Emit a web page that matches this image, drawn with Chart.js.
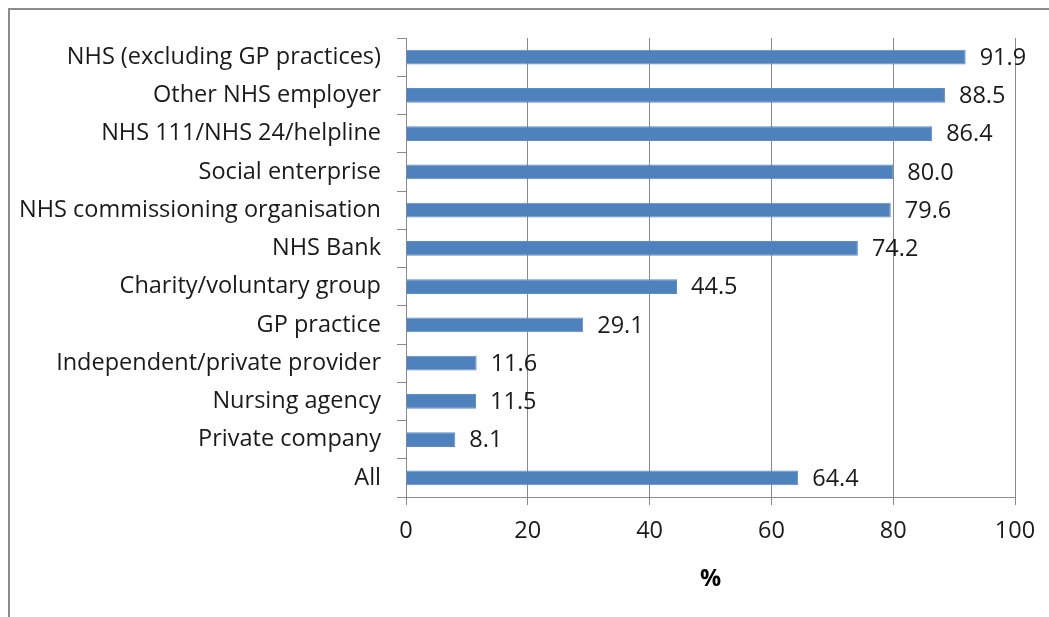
<!DOCTYPE html>
<html>
<head>
<meta charset="utf-8">
<script src="https://cdn.jsdelivr.net/npm/chart.js@4"></script>
<style>
  html, body { margin: 0; padding: 0; background: #fff; }
  #wrap { position: relative; width: 1049px; height: 617px; overflow: hidden; }
  #frame { position: absolute; left: 8px; top: 8px; width: 1100px; height: 700px;
           border-left: 2px solid #8c8c8c; border-top: 2px solid #8c8c8c; }
  canvas { position: absolute; left: 0; top: 0; }
</style>
</head>
<body>
<div id="wrap">
  <div id="frame"></div>
  <canvas id="chart" width="1049" height="617"></canvas>
</div>
<script>
// Categorías y valores (%)
const categories = [
    'NHS (excluding GP practices)',
    'Other NHS employer',
    'NHS 111/NHS 24/helpline',
    'Social enterprise',
    'NHS commissioning organisation',
    'NHS Bank',
    'Charity/voluntary group',
    'GP practice',
    'Independent/private provider',
    'Nursing agency',
    'Private company',
    'All'
];
const values = [91.9, 88.5, 86.4, 80.0, 79.6, 74.2, 44.5, 29.1, 11.6, 11.5, 8.1, 64.4];
const xTicks = [0, 20, 40, 60, 80, 100];
const axisTitle = '%';

const FONT = '"Open Sans", sans-serif';
const SIZE = 23.5;
const GRID = '#8a8a8a';

// Etiquetas de valor al final de cada barra
const valueLabels = {
    id: 'valueLabels',
    afterDatasetsDraw(chart) {
        const ctx = chart.ctx;
        const meta = chart.getDatasetMeta(0);
        ctx.save();
        ctx.font = SIZE + 'px ' + FONT;
        ctx.fillStyle = '#1a1a1a';
        ctx.textAlign = 'left';
        ctx.textBaseline = 'middle';
        meta.data.forEach((bar, i) => {
            ctx.fillText(values[i].toFixed(1), bar.x + 14, bar.y + 1);
        });
        ctx.restore();
    }
};

new Chart(document.getElementById('chart').getContext('2d'), {
    type: 'bar',
    data: {
        labels: categories,
        datasets: [{
            data: values,
            backgroundColor: '#4f81bd',
            borderColor: '#5b8cc8',
            borderWidth: 1,
            categoryPercentage: 1,
            barPercentage: 0.39
        }]
    },
    options: {
        indexAxis: 'y',
        responsive: false,
        animation: false,
        layout: { padding: { top: 38, right: 34, bottom: 0, left: 0 } },
        plugins: {
            legend: { display: false },
            tooltip: { enabled: false }
        },
        scales: {
            x: {
                min: 0,
                max: 100,
                afterBuildTicks: (scale) => { scale.ticks = xTicks.map(v => ({ value: v })); },
                afterFit: (scale) => { scale.height = 120; },
                grid: { color: GRID, lineWidth: 1, tickLength: 8, drawTicks: true },
                border: { color: GRID, width: 1 },
                ticks: {
                    padding: 12,
                    color: '#1a1a1a',
                    font: { family: FONT, size: SIZE },
                    maxRotation: 0
                },
                title: {
                    display: true,
                    text: axisTitle,
                    color: '#000',
                    font: { family: FONT, size: SIZE, weight: 'bold' },
                    padding: { top: 0, bottom: 24 }
                }
            },
            y: {
                afterFit: (scale) => { scale.width = 406; },
                grid: { offset: true, drawOnChartArea: false, color: GRID, tickLength: 9 },
                border: { color: GRID, width: 1 },
                ticks: {
                    padding: 16,
                    color: '#1a1a1a',
                    font: { family: FONT, size: SIZE },
                    autoSkip: false
                }
            }
        }
    },
    plugins: [valueLabels]
});
</script>
</body>
</html>
